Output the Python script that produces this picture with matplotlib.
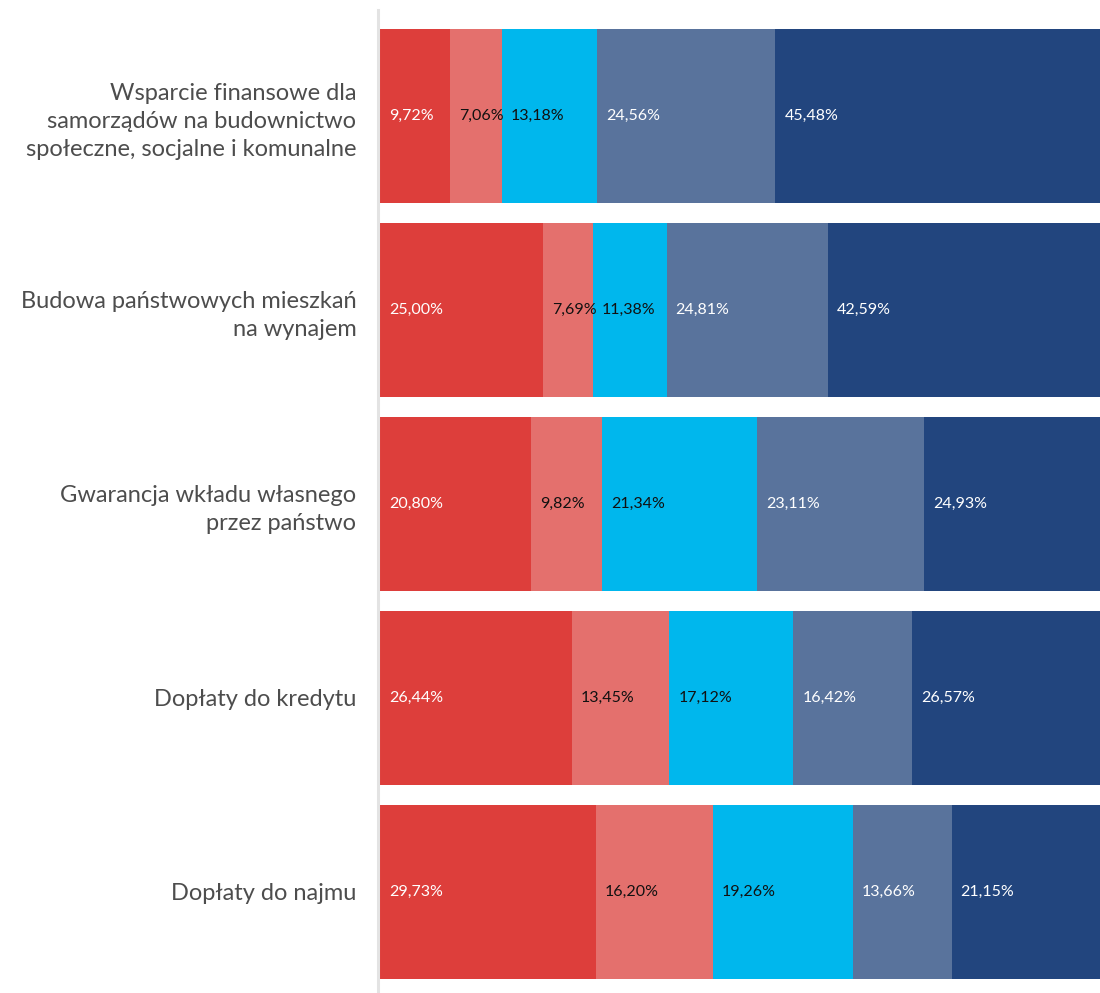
import numpy as np
import matplotlib
matplotlib.use("Agg")
import matplotlib.pyplot as plt
from matplotlib.lines import Line2D

categories = [
    "Wsparcie finansowe dla\nsamorządów na budownictwo\nspołeczne, socjalne i komunalne",
    "Budowa państwowych mieszkań\nna wynajem",
    "Gwarancja wkładu własnego\nprzez państwo",
    "Dopłaty do kredytu",
    "Dopłaty do najmu",
]
seg1 = [9.72, 25.00, 20.80, 26.44, 29.73]
seg2 = [7.06, 7.69, 9.82, 13.45, 16.20]
seg3 = [13.18, 11.38, 21.34, 17.12, 19.26]
seg4 = [24.56, 24.81, 23.11, 16.42, 13.66]
seg5 = [45.48, 42.59, 24.93, 26.57, 21.15]

COLORS = ["#dd3e3b", "#e4706d", "#00b7ed", "#59739c", "#22457e"]
TXT = ["white", "#111111", "#111111", "white", "white"]
INK = "#4d4d4d"
plt.rcParams["font.family"] = ["Lato", "DejaVu Sans"]

fig = plt.figure(figsize=(11, 9.93), dpi=100)
W, H = 1100, 993
# plotting area runs a little past the right edge, as in the original
ax = fig.add_axes([380 / W, 0, 725 / W, (993 - 10) / H])

series = np.array([seg1, seg2, seg3, seg4, seg5])
shares = series / series.sum(axis=0) * 100
y = np.arange(len(categories))
left = np.zeros(len(categories))
for i in range(5):
    ax.barh(y, shares[i], left=left, height=0.9, color=COLORS[i], lw=0)
    for j in range(len(categories)):
        ax.annotate(f"{series[i, j]:.2f}%".replace(".", ","),
                    xy=(left[j], y[j]), xytext=(6.5, 0),
                    textcoords="offset points", va="center", ha="left",
                    fontsize=11.5, color=TXT[i])
    left += shares[i]

ax.set_xlim(0, 100)
ax.set_ylim(4.522, -0.548)
ax.set_yticks(y)
ax.set_yticklabels(categories, fontsize=17, color=INK, linespacing=1.4)
ax.tick_params(axis="y", length=0, pad=17)
ax.set_xticks([])
for s in ax.spines.values():
    s.set_visible(False)

fig.add_artist(Line2D([377.5 / W, 377.5 / W], [0, (993 - 10) / H],
                      color="#e3e3e3", lw=2.2))

fig.savefig("out.png", dpi=100)
